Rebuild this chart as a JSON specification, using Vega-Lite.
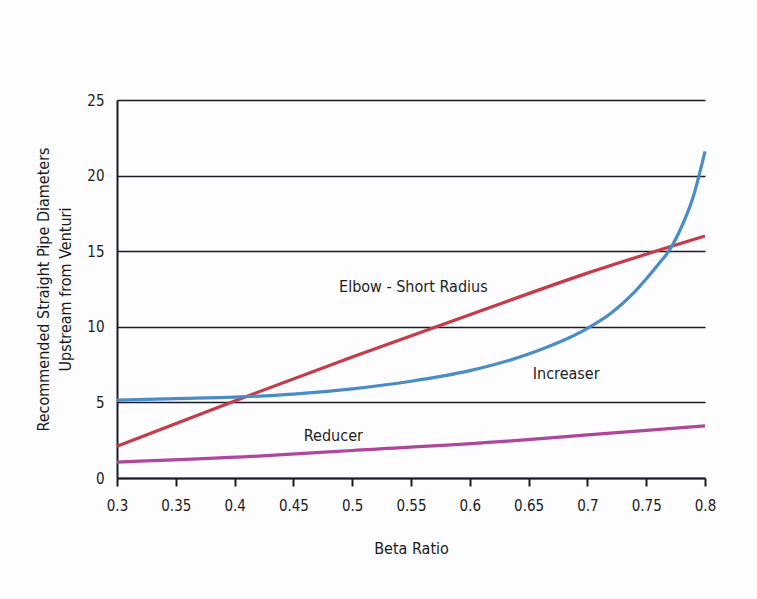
{
  "$schema": "https://vega.github.io/schema/vega-lite/v6.json",
  "autosize": {"type": "none"},
  "width": 588,
  "height": 378,
  "padding": {"left": 117, "top": 100, "right": 52, "bottom": 121},
  "background": "#fdfdff",
  "config": {
    "font": "DejaVu Sans Condensed",
    "view": {"stroke": null},
    "axis": {"labelFont": "DejaVu Sans Condensed", "titleFont": "DejaVu Sans Condensed", "labelColor": "#1a1a1a", "titleColor": "#1a1a1a", "titleFontWeight": "normal"}
  },
  "datasets": {
    "curves": [
      {"beta": 0.3, "value": 2.1, "series": "Elbow - Short Radius"},
      {"beta": 0.4, "value": 5.1, "series": "Elbow - Short Radius"},
      {"beta": 0.5, "value": 8.0, "series": "Elbow - Short Radius"},
      {"beta": 0.6, "value": 10.8, "series": "Elbow - Short Radius"},
      {"beta": 0.7, "value": 13.55, "series": "Elbow - Short Radius"},
      {"beta": 0.8, "value": 16.0, "series": "Elbow - Short Radius"},
      {"beta": 0.3, "value": 5.15, "series": "Increaser"},
      {"beta": 0.35, "value": 5.25, "series": "Increaser"},
      {"beta": 0.4, "value": 5.35, "series": "Increaser"},
      {"beta": 0.45, "value": 5.55, "series": "Increaser"},
      {"beta": 0.5, "value": 5.9, "series": "Increaser"},
      {"beta": 0.55, "value": 6.4, "series": "Increaser"},
      {"beta": 0.6, "value": 7.1, "series": "Increaser"},
      {"beta": 0.65, "value": 8.2, "series": "Increaser"},
      {"beta": 0.7, "value": 9.9, "series": "Increaser"},
      {"beta": 0.72, "value": 10.9, "series": "Increaser"},
      {"beta": 0.74, "value": 12.3, "series": "Increaser"},
      {"beta": 0.76, "value": 14.1, "series": "Increaser"},
      {"beta": 0.77, "value": 15.1, "series": "Increaser"},
      {"beta": 0.78, "value": 16.6, "series": "Increaser"},
      {"beta": 0.79, "value": 18.6, "series": "Increaser"},
      {"beta": 0.8, "value": 21.6, "series": "Increaser"},
      {"beta": 0.3, "value": 1.05, "series": "Reducer"},
      {"beta": 0.42, "value": 1.45, "series": "Reducer"},
      {"beta": 0.5, "value": 1.82, "series": "Reducer"},
      {"beta": 0.626, "value": 2.4, "series": "Reducer"},
      {"beta": 0.7, "value": 2.85, "series": "Reducer"},
      {"beta": 0.8, "value": 3.45, "series": "Reducer"}
    ],
    "labels": [
      {"beta": 0.552, "value": 12.6, "text": "Elbow - Short Radius"},
      {"beta": 0.682, "value": 6.9, "text": "Increaser"},
      {"beta": 0.484, "value": 2.8, "text": "Reducer"}
    ]
  },
  "layer": [
    {
      "data": {"name": "curves"},
      "mark": {"type": "line", "strokeWidth": 3.2, "interpolate": "monotone"},
      "encoding": {
        "x": {
          "field": "beta", "type": "quantitative",
          "scale": {"domain": [0.3, 0.8], "nice": false, "zero": false},
          "axis": {
            "title": "Beta Ratio", "titleFontSize": 16, "titlePadding": 27,
            "values": [0.3, 0.35, 0.4, 0.45, 0.5, 0.55, 0.6, 0.65, 0.7, 0.75, 0.8],
            "format": ".2~f",
            "labelFontSize": 15, "labelPadding": 12, "tickSize": 8, "tickWidth": 2, "tickColor": "#1a1a2a",
            "domainColor": "#1a1a2a", "domainWidth": 2, "grid": false, "labelFlush": false
          }
        },
        "y": {
          "field": "value", "type": "quantitative",
          "scale": {"domain": [0, 25], "nice": false},
          "axis": {
            "title": ["Recommended Straight Pipe Diameters", "Upstream from Venturi"],
            "titleFontSize": 16, "titlePadding": 13, "titleLineHeight": 22,
            "values": [0, 5, 10, 15, 20, 25],
            "labelFontSize": 15, "labelPadding": 13, "ticks": false,
            "domainColor": "#1a1a2a", "domainWidth": 2,
            "grid": true, "gridColor": "#1a1a2a", "gridWidth": 1.6, "gridOpacity": 1
          }
        },
        "color": {
          "field": "series", "type": "nominal",
          "scale": {"domain": ["Elbow - Short Radius", "Increaser", "Reducer"], "range": ["#c83a45", "#4a8cc6", "#b0459c"]},
          "legend": null
        }
      }
    },
    {
      "data": {"name": "labels"},
      "mark": {"type": "text", "fontSize": 16, "color": "#1e1e1e", "align": "center", "baseline": "middle", "font": "DejaVu Sans Condensed"},
      "encoding": {
        "x": {"field": "beta", "type": "quantitative"},
        "y": {"field": "value", "type": "quantitative"},
        "text": {"field": "text"}
      }
    }
  ]
}
